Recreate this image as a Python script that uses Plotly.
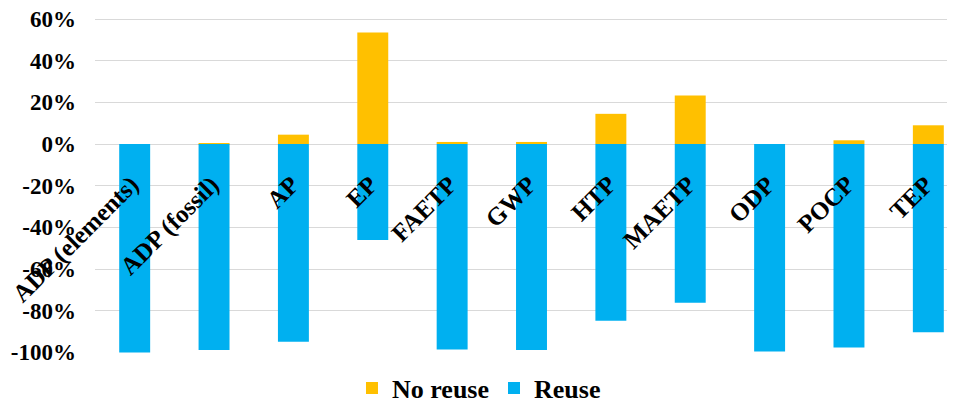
import plotly.graph_objects as go

categories = ["ADP (elements)", "ADP (fossil)", "AP", "EP", "FAETP", "GWP",
              "HTP", "MAETP", "ODP", "POCP", "TEP"]
no_reuse = [0.0, 0.005, 0.045, 0.535, 0.01, 0.01, 0.145, 0.233, 0.0, 0.018, 0.09]
reuse = [-1.0, -0.989, -0.949, -0.46, -0.986, -0.989, -0.848, -0.762, -0.996, -0.976, -0.903]
y_ticks = [-1.0, -0.8, -0.6, -0.4, -0.2, 0.0, 0.2, 0.4, 0.6]
y_tick_labels = ["-100%", "-80%", "-60%", "-40%", "-20%", "0%", "20%", "40%", "60%"]

FONT = "Liberation Serif"
# the page body has an 8px margin, so the figure is drawn 8px in from the corner
W, H = 947, 395
ml, mr, mt, mb = 87, 0, 10, 50
ymin, ymax = -1.003, 0.605

fig = go.Figure()
fig.add_trace(go.Bar(name="No reuse", x=categories, y=no_reuse,
                     marker=dict(color="#FFC000", line=dict(width=0))))
fig.add_trace(go.Bar(name="Reuse", x=categories, y=reuse,
                     marker=dict(color="#00B0F0", line=dict(width=0))))

# category labels rotated, hanging below the zero line
for c in categories:
    fig.add_annotation(x=c, y=0, xref="x", yref="y", text=c, showarrow=False,
                       textangle=-45, xanchor="right", yanchor="top",
                       xshift=13, yshift=-24,
                       font=dict(family=FONT, size=25, color="black", weight="bold"))

fig.update_layout(
    width=W, height=H,
    margin=dict(l=ml, r=mr, t=mt, b=mb, autoexpand=False),
    barmode="relative",
    bargap=0.61,
    plot_bgcolor="white", paper_bgcolor="white",
    font=dict(family=FONT, size=20, color="black"),
    showlegend=True,
    legend=dict(orientation="h", x=0.4465, xanchor="center", xref="paper",
                y=-0.1048, yanchor="middle",
                font=dict(family=FONT, size=26, color="black", weight="bold"),
                itemwidth=30, traceorder="normal"),
    xaxis=dict(
        type="category",
        range=[-0.5, 10.336],
        showline=False, showgrid=False, ticks="", showticklabels=False,
        automargin=False,
    ),
    yaxis=dict(
        range=[ymin, ymax],
        tickvals=y_ticks, ticktext=y_tick_labels,
        showgrid=True, gridcolor="#D9D9D9", gridwidth=1,
        zeroline=True, zerolinecolor="#D9D9D9", zerolinewidth=1,
        showline=False, ticks="",
        tickfont=dict(family=FONT, size=23, color="black", weight="bold"),
        ticklabelstandoff=18,
        ticklabeloverflow="allow",
        automargin=False,
    ),
)

fig.write_html("out.html")
